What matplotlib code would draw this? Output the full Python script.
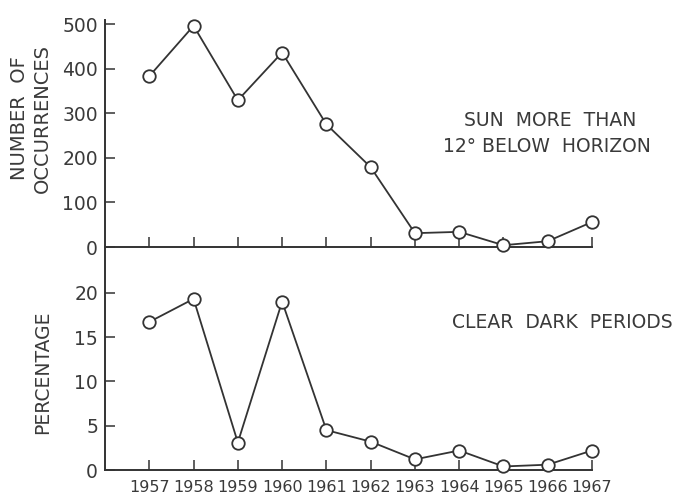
import matplotlib
matplotlib.use("Agg")
import matplotlib.pyplot as plt

# yearly counts and percentages
years = [1957, 1958, 1959, 1960, 1961, 1962, 1963, 1964, 1965, 1966, 1967]
occurrences = [383, 496, 329, 436, 275, 179, 31, 34, 4, 13, 56]
percentage = [16.7, 19.3, 3.1, 19.0, 4.5, 3.2, 1.2, 2.2, 0.4, 0.6, 2.2]

occ_ticks = [0, 100, 200, 300, 400, 500]
pct_ticks = [0, 5, 10, 15, 20]

ink = "#333333"
txt = "#3a3a3a"

plt.rcParams["font.family"] = "DejaVu Sans"

fig = plt.figure(figsize=(6.86, 4.96), dpi=100)
fig.patch.set_facecolor("white")

ax_top = fig.add_axes([0.1531, 0.502, 0.7099, 0.4577])
ax_bot = fig.add_axes([0.1531, 0.0524, 0.7099, 0.4496])


def style_axis(ax):
    "Only left and bottom lines, ticks pointing inward"
    for side in ["top", "right"]:
        ax.spines[side].set_visible(False)
    for side in ["left", "bottom"]:
        ax.spines[side].set_color(ink)
        ax.spines[side].set_linewidth(1.4)
    ax.set_xlim(1956, 1967)
    ax.set_xticks(years)
    ax.tick_params(axis="both", direction="in", length=7.5, width=1.1,
                   color=ink, labelcolor=txt)
    ax.tick_params(axis="y", labelsize=13.5, pad=5)
    ax.set_facecolor("none")


def draw_series(ax, vals):
    ax.plot(years, vals, color=ink, linewidth=1.3, marker="o", markersize=9,
            markerfacecolor="white", markeredgecolor=ink, markeredgewidth=1.3,
            clip_on=False, zorder=3)


style_axis(ax_top)
ax_top.set_ylim(0, 509)
ax_top.set_yticks(occ_ticks)
ax_top.tick_params(axis="x", labelbottom=False)
draw_series(ax_top, occurrences)

style_axis(ax_bot)
ax_bot.set_ylim(0, 25.15)
ax_bot.set_yticks(pct_ticks)
ax_bot.set_xticklabels([str(y) for y in years])
ax_bot.tick_params(axis="x", labelsize=11.5, pad=7)
draw_series(ax_bot, percentage)

# axis titles and notes
fig.text(0.045, 0.762, "NUMBER  OF\nOCCURRENCES", rotation=90, ha="center",
         va="center", multialignment="center", fontsize=14, color=txt,
         linespacing=1.25)
fig.text(0.0627, 0.25, "PERCENTAGE", rotation=90, ha="center", va="center",
         fontsize=13.5, color=txt)

fig.text(0.802, 0.758, "SUN  MORE  THAN", ha="center", va="center",
         fontsize=13.5, color=txt)
fig.text(0.797, 0.704, "12° BELOW  HORIZON", ha="center", va="center",
         fontsize=13.5, color=txt)
fig.text(0.819, 0.349, "CLEAR  DARK  PERIODS", ha="center", va="center",
         fontsize=13.5, color=txt)

fig.savefig("out.png", dpi=100, facecolor="white")
